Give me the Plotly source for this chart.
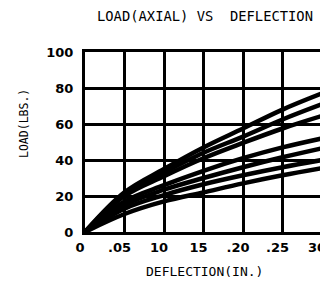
import plotly.graph_objects as go

deflection = [0, 0.05, 0.10, 0.15, 0.20, 0.25, 0.30]
load_a = [0, 22, 35, 47, 57.5, 68, 77]
load_b = [0, 21, 33, 44, 53, 62.5, 71]
load_c = [0, 20, 31, 41, 49.5, 57.5, 64.5]
load_d = [0, 17, 26, 34, 41, 47, 52]
load_e = [0, 15, 23.5, 30, 36, 41.5, 46.5]
load_f = [0, 13, 20.5, 26.5, 31.5, 36, 40]
load_g = [0, 10, 17, 22, 27, 31.5, 35.5]
series = [load_a, load_b, load_c, load_d, load_e, load_f, load_g]

x_tickvals = [0, 0.05, 0.10, 0.15, 0.20, 0.25, 0.30]
x_ticktext = ["0", ".05", "10", "15", ".20", ".25", "30"]
y_tickvals = [0, 20, 40, 60, 80, 100]

fig = go.Figure()
for s in series:
    fig.add_trace(go.Scatter(x=deflection, y=s, mode="lines",
                             line=dict(color="black", width=4.5, shape="spline"),
                             showlegend=False, hoverinfo="skip"))

mono = "DejaVu Sans Mono"
tickfont = dict(family="DejaVu Sans", size=13, weight="bold", color="black")
fig.update_layout(
    width=328, height=286,
    margin=dict(l=77, r=14, t=44, b=62),
    paper_bgcolor="white", plot_bgcolor="white",
    font=dict(family=mono, size=12, color="black"),
    title=dict(text="LOAD(AXIAL) VS  DEFLECTION", x=0.6006, xanchor="center",
               y=0.972, yanchor="middle", automargin=False,
               font=dict(family=mono, size=13.8, color="black")),
    xaxis=dict(range=[0, 0.30], tickvals=x_tickvals, ticktext=x_ticktext,
               showgrid=True, gridcolor="black", gridwidth=2.5,
               showline=True, linecolor="black", linewidth=3, mirror=True,
               ticks="", zeroline=False, automargin=False,
               ticklabelstandoff=1, ticklabelshift=-5,
               tickfont=tickfont),
    yaxis=dict(range=[0, 100], tickvals=y_tickvals,
               showgrid=True, gridcolor="black", gridwidth=2.5,
               showline=True, linecolor="black", linewidth=3, mirror=True,
               ticks="", zeroline=False, automargin=False,
               ticklabelstandoff=6,
               tickfont=tickfont),
    annotations=[
        dict(text="DEFLECTION(IN.)", xref="paper", yref="paper",
             x=0.506, y=-0.2167, xanchor="center", yanchor="middle",
             showarrow=False, font=dict(family=mono, size=13, color="black")),
        dict(text="LOAD(LBS.)", xref="paper", yref="paper",
             x=-0.2574, y=0.6056, xanchor="center", yanchor="middle",
             textangle=-90, showarrow=False,
             font=dict(family=mono, size=11.5, color="black")),
    ],
)
fig.write_html("out.html")
